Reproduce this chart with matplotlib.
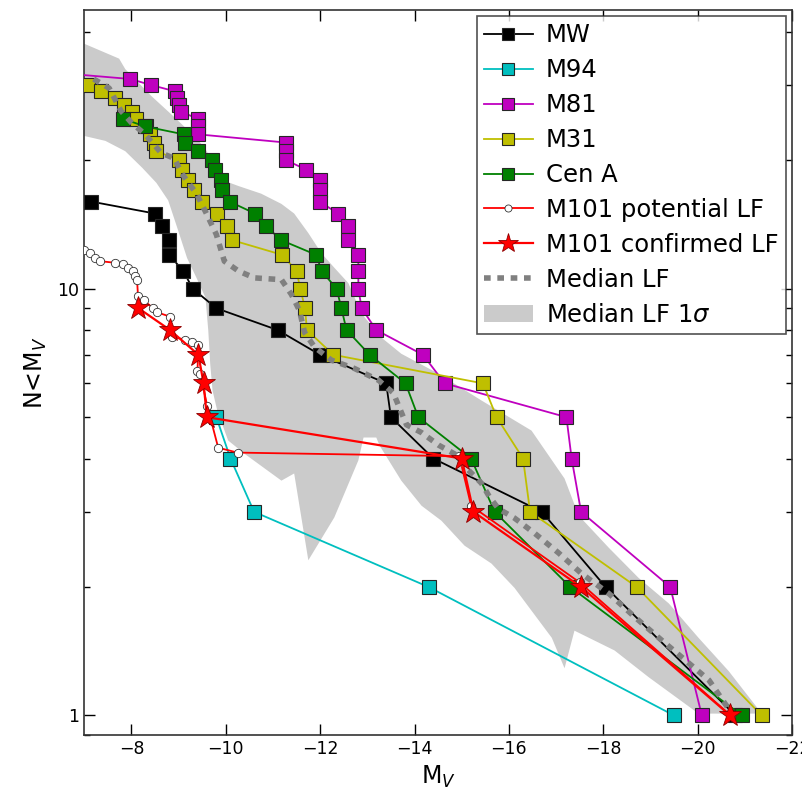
"""Cumulative satellite luminosity functions compared with M101."""

import matplotlib

matplotlib.use("Agg")
import matplotlib.pyplot as plt
from matplotlib.patches import Patch
from matplotlib.ticker import FixedLocator, LogLocator, NullFormatter

# Milky Way
mw_mag = [-7.15, -8.5, -8.65, -8.8, -8.8, -9.1, -9.3, -9.8, -11.1, -12.0, -13.4,
          -13.5, -14.4, -16.7, -18.05, -20.8]
mw_n = [16, 15, 14, 13, 12, 11, 10, 9, 8, 7, 6, 5, 4, 3, 2, 1]

# M94
m94_mag = [-9.8, -10.1, -10.6, -14.3, -19.5]
m94_n = [5, 4, 3, 2, 1]

# M81
m81_mag = [-6.5, -7.98, -8.42, -8.93, -8.97, -9.0, -9.05, -9.41, -9.41, -9.41,
           -11.28, -11.28, -11.28, -11.71, -11.99, -11.99, -11.99, -12.38, -12.59,
           -12.59, -12.81, -12.81, -12.81, -12.88, -13.19, -14.18, -14.64, -17.22,
           -17.33, -17.53, -19.42, -20.09]
m81_n = list(range(32, 0, -1))

# M31
m31_mag = [-7.08, -7.35, -7.65, -7.85, -8.02, -8.1, -8.3, -8.4, -8.48, -8.53,
           -9.01, -9.07, -9.21, -9.32, -9.5, -9.82, -10.03, -10.13, -11.2, -11.5,
           -11.58, -11.68, -11.72, -12.28, -15.45, -15.74, -16.3, -16.45, -18.71,
           -21.36]
m31_n = list(range(30, 0, -1))

# Centaurus A
cena_mag = [-7.83, -8.29, -9.11, -9.14, -9.41, -9.7, -9.78, -9.9, -9.92, -10.08,
            -10.62, -10.86, -11.17, -11.92, -12.03, -12.35, -12.45, -12.56, -13.05,
            -13.81, -14.08, -15.2, -15.7, -17.3, -20.94]
cena_n = list(range(25, 0, -1))

# M101, probability-weighted candidates
m101_pot_mag = [-7.0, -7.13, -7.23, -7.34, -7.66, -7.83, -7.93, -8.04, -8.08, -8.12,
                -8.14, -8.26, -8.46, -8.55, -8.82, -8.87, -9.14, -9.29, -9.42, -9.4,
                -9.46, -9.61, -9.84, -10.25, -14.95, -15.2, -17.5, -20.7]
m101_pot_n = [12.3, 12.1, 11.8, 11.6, 11.5, 11.4, 11.2, 11.0, 10.7, 10.5,
              9.6, 9.4, 9.0, 8.8, 8.6, 7.7, 7.6, 7.5, 7.4, 6.4,
              6.3, 5.3, 4.24, 4.13, 4.05, 3.1, 2.05, 1.0]

# M101, confirmed satellites
m101_conf_mag = [-8.15, -8.82, -9.42, -9.53, -9.6, -15.0, -15.25, -17.53, -20.69]
m101_conf_n = [9, 8, 7, 6, 5, 4, 3, 2, 1]

# Median LF of the comparison hosts
median_mag = [-7.2, -7.53, -7.78, -8.0, -8.27, -8.46, -8.63, -8.91, -9.06, -9.21,
              -9.38, -9.59, -9.8, -9.97, -10.27, -10.61, -11.18, -11.39, -11.56,
              -11.67, -11.88, -12.24, -12.73, -13.24, -13.55, -13.83, -14.15, -14.51,
              -14.85, -15.15, -15.42, -15.59, -15.78, -16.12, -16.55, -17.06, -17.54,
              -18.12, -18.67, -19.24, -19.73, -20.24, -20.7]
median_n = [31.0, 29.5, 26.1, 24.5, 23.1, 21.9, 20.8, 20.2, 18.7, 17.7,
            16.7, 15.0, 13.4, 11.6, 11.0, 10.6, 10.5, 9.7, 8.9,
            7.9, 7.3, 6.8, 6.5, 6.1, 5.7, 4.8, 4.6, 4.3,
            4.1, 3.75, 3.5, 3.25, 3.05, 2.9, 2.67, 2.4, 2.15,
            1.93, 1.7, 1.5, 1.35, 1.21, 1.02]

# 1 sigma envelope around the median
band_upper_mag = [-7.0, -7.74, -7.87, -8.42, -8.95, -9.38, -9.55, -9.97, -10.27,
                  -10.75, -11.18, -11.45, -11.75, -12.03, -12.3, -12.6, -12.88, -13.3,
                  -13.72, -14.51, -15.42, -16.48, -17.18, -17.48, -18.12, -18.75,
                  -19.39, -20.02, -20.66, -21.36]
band_upper_n = [37.5, 34.6, 32.7, 28.3, 25.0, 22.5, 21.4, 17.9, 17.4,
                16.7, 15.8, 15.0, 13.5, 12.1, 11.2, 10.3, 8.74, 7.68,
                7.04, 6.32, 5.47, 4.65, 3.59, 2.94, 2.47, 2.10,
                1.83, 1.52, 1.27, 1.01]
band_lower_mag = [-7.0, -7.45, -7.87, -8.23, -8.53, -8.78, -8.99, -9.18, -9.38,
                  -9.57, -9.63, -9.67, -9.72, -9.82, -10.05, -10.39, -11.18, -11.45,
                  -11.75, -12.3, -12.81, -12.92, -13.19, -13.26, -13.72, -14.15,
                  -14.57, -15.06, -15.63, -16.12, -16.48, -16.91, -17.18, -17.39,
                  -18.24, -18.96, -20.02]
band_lower_n = [22.8, 22.2, 21.0, 19.2, 17.7, 16.1, 13.7, 11.8, 10.6,
                9.53, 7.97, 6.67, 5.77, 5.18, 4.41, 4.11, 3.55, 3.69,
                2.31, 2.91, 3.96, 4.48, 4.48, 4.29, 3.55, 3.10,
                2.86, 2.50, 2.27, 1.99, 1.76, 1.52, 1.29, 1.58,
                1.42, 1.23, 1.01]

MAG_LIMITS = (-7, -22)
N_LIMITS = (0.9, 45)
BAND_COLOR = "#cbcbcb"


def _draw_band(axes) -> None:
    """Fill the 1 sigma envelope as a closed polygon."""
    poly_mag = band_upper_mag + band_lower_mag[::-1]
    poly_n = band_upper_n + band_lower_n[::-1]
    axes.fill(poly_mag, poly_n, color=BAND_COLOR, lw=0, zorder=1)


def _draw_hosts(axes) -> None:
    """Draw the comparison host luminosity functions."""
    hosts = [
        (mw_mag, mw_n, "k", "MW"),
        (m94_mag, m94_n, "c", "M94"),
        (m81_mag, m81_n, "m", "M81"),
        (m31_mag, m31_n, "y", "M31"),
        (cena_mag, cena_n, "g", "Cen A"),
    ]
    for mags, counts, color, label in hosts:
        axes.plot(mags, counts, "-s", color=color, lw=1.3, ms=9.5,
                  mec="0.15", mew=0.8, label=label, zorder=3)


def _draw_m101(axes) -> None:
    """Draw the candidate and confirmed M101 satellite luminosity functions."""
    axes.plot(m101_pot_mag, m101_pot_n, "-o", color="r", lw=1.3, ms=6,
              mfc="white", mec="0.2", mew=0.6, label="M101 potential LF", zorder=4)
    axes.plot(m101_conf_mag, m101_conf_n, "-*", color="r", lw=1.6, ms=17,
              mfc="r", mec="#8b0000", mew=0.6, label="M101 confirmed LF", zorder=6)


def _style_axes(axes) -> None:
    """Log count axis, reversed magnitude axis, inward ticks on every side."""
    axes.set_yscale("log")
    axes.set_xlim(*MAG_LIMITS)
    axes.set_ylim(*N_LIMITS)
    axes.xaxis.set_major_locator(FixedLocator(range(-8, -23, -2)))
    axes.yaxis.set_major_locator(FixedLocator([1, 10]))
    axes.yaxis.set_minor_locator(LogLocator(base=10, subs=range(2, 10)))
    axes.yaxis.set_minor_formatter(NullFormatter())
    axes.set_yticklabels(["1", "10"])
    axes.tick_params(which="both", direction="in", top=True, right=True,
                     labelsize=12.5, width=1.0)
    axes.tick_params(which="major", length=8)
    axes.tick_params(which="minor", length=4)
    for spine in axes.spines.values():
        spine.set_linewidth(1.2)
        spine.set_color("0.2")
    axes.set_xlabel(r"M$_V$", fontsize=17, labelpad=4)
    axes.set_ylabel(r"N<M$_V$", fontsize=17, labelpad=6)


def plot_luminosity_functions(output_path: str = "out.png"):
    """Plot all cumulative luminosity functions and save the figure."""
    figure = plt.figure(figsize=(8.02, 7.95), dpi=100)
    axes = figure.add_axes([0.105, 0.0755, 0.8825, 0.912])
    _draw_band(axes)
    _draw_hosts(axes)
    _draw_m101(axes)
    axes.plot(median_mag, median_n, color="0.5", lw=4, ls=(0, (1.2, 1.2)),
              label="Median LF", zorder=5)
    _style_axes(axes)

    handles, labels = axes.get_legend_handles_labels()
    handles.append(Patch(facecolor=BAND_COLOR, edgecolor="none"))
    labels.append(r"Median LF 1$\sigma$")
    legend = axes.legend(handles, labels, loc="upper right", fontsize=17.5,
                         frameon=True, fancybox=False, borderaxespad=0.25,
                         labelspacing=0.45, handlelength=2.0, handletextpad=0.55,
                         borderpad=0.3, markerscale=0.85)
    legend.get_frame().set_edgecolor("0.15")
    legend.get_frame().set_linewidth(1.2)
    legend.set_zorder(10)

    figure.savefig(output_path, dpi=100)
    return figure


if __name__ == "__main__":
    plot_luminosity_functions()
